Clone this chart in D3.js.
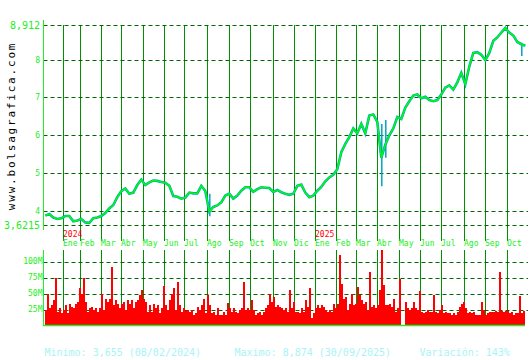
<!DOCTYPE html>
<html>
<head>
<meta charset="utf-8">
<script src="https://cdn.jsdelivr.net/npm/d3@7"></script>
<style>
  body { margin: 0; background: #fff; }
  svg { display: block; }
  text { font-family: "DejaVu Sans Mono", monospace; }
</style>
</head>
<body>
<div id="chart"></div>
<script>
// closing price, one value every 4 sessions (session 0 .. 480)
var closes = [
  3.87, 3.91, 3.82, 3.78, 3.80, 3.86, 3.86, 3.72, 3.74, 3.78,
  3.69, 3.68, 3.80, 3.82, 3.86, 3.94, 4.06, 4.15, 4.36, 4.52,
  4.59, 4.45, 4.48, 4.68, 4.82, 4.68, 4.75, 4.80, 4.79, 4.76,
  4.74, 4.66, 4.39, 4.37, 4.32, 4.35, 4.48, 4.46, 4.46, 4.66,
  4.52, 3.98, 4.10, 4.14, 4.22, 4.40, 4.45, 4.32, 4.40, 4.53,
  4.62, 4.62, 4.50, 4.57, 4.62, 4.61, 4.60, 4.50, 4.55, 4.49,
  4.45, 4.42, 4.45, 4.66, 4.69, 4.48, 4.36, 4.40, 4.53, 4.63,
  4.78, 4.88, 4.95, 5.10, 5.55, 5.77, 5.95, 6.18, 6.05, 6.30,
  6.05, 6.52, 6.55, 6.35, 5.40, 5.75, 6.00, 6.18, 6.48, 6.43,
  6.73, 6.90, 7.05, 7.08, 6.98, 7.02, 6.93, 6.90, 6.93, 7.08,
  7.26, 7.32, 7.21, 7.40, 7.65, 7.35, 7.82, 8.18, 8.20, 8.13,
  7.99, 8.18, 8.50, 8.59, 8.72, 8.84, 8.72, 8.64, 8.47, 8.41,
  8.37
];
var closeStep = 4;

// a few intraday ranges that stick out of the line
var wickDays = [164, 336, 340, 476];
var wickLow  = [3.85, 4.65, 5.40, 8.10];
var wickHigh = [4.45, 6.30, 6.40, 8.45];

// volume in millions, one value every 2 sessions
var volumes = [
  25, 49, 27, 32, 40, 75, 21, 27, 19, 24,
  32, 19, 34, 29, 27, 34, 37, 58, 50, 75,
  37, 21, 27, 29, 24, 27, 21, 27, 50, 25,
  42, 37, 42, 92, 32, 40, 34, 27, 34, 37,
  24, 40, 34, 40, 27, 37, 40, 47, 56, 42,
  37, 21, 32, 21, 34, 27, 32, 19, 27, 61,
  32, 24, 40, 50, 58, 25, 68, 32, 21, 27,
  23, 24, 21, 24, 16, 19, 29, 24, 32, 42,
  19, 47, 32, 19, 21, 16, 27, 16, 16, 21,
  16, 35, 27, 21, 27, 21, 19, 24, 27, 68,
  24, 27, 24, 40, 24, 16, 19, 21, 16, 21,
  27, 32, 50, 37, 45, 29, 32, 29, 27,
  24, 27, 21, 55, 27, 37, 21, 21, 19, 27,
  21, 40, 29, 58, 11, 19, 27, 32, 27, 32,
  29, 24, 21, 24, 21, 34, 27, 34, 110, 65,
  42, 45, 24, 34, 50, 32, 34, 60, 47, 40,
  34, 37, 24, 84, 29, 32, 27, 32, 55, 118,
  63, 32, 32, 34, 29, 42, 21, 27, 73, 0,
  0, 37, 27, 24, 27, 37, 27, 24, 54, 21,
  19, 21, 24, 21, 21, 47, 21, 19, 24, 32,
  19, 21, 19, 19, 16, 19, 16, 21, 29, 34,
  37, 27, 19, 21, 19, 21, 16, 16, 16, 37,
  24, 16, 19, 21, 21, 21, 23, 21, 84, 23,
  21, 22, 23, 20, 21, 16, 19, 20, 46, 20,
  23
];
var volStep = 2;

// month starts (session index)
var monthNames = ["Ene","Feb","Mar","Abr","May","Jun","Jul","Ago","Sep","Oct","Nov","Dic",
                  "Ene","Feb","Mar","Abr","May","Jun","Jul","Ago","Sep","Oct"];
var monthDays  = [18, 35, 56, 76, 98, 119, 139, 162, 184, 205, 228, 249,
                  270, 291, 311, 332, 354, 375, 396, 419, 440, 462];
var yearNames = ["2024", "2025"];
var yearDays  = [18, 270];

var priceMin = 3.6215, priceMax = 8.912;
var priceTicks = [4, 5, 6, 7, 8];
var volTicks = [25, 50, 75, 100];

var W = 530, H = 360;
var svg = d3.select("#chart").append("svg")
    .attr("width", W)
    .attr("height", H);

var left = 43.5, right = 528;
var x = d3.scaleLinear().domain([0, 480]).range([45.3, 525.3]);
var y = d3.scaleLinear().domain([priceMin, priceMax]).range([225, 25.3]);
var yv = d3.scaleLinear().domain([0, 100]).range([325.5, 261.5]);

var lime = "#22ee22", vgreen = "#008f00", dgreen = "#006400";

// month grid lines
svg.append("g").selectAll("line.m1").data(monthDays).enter().append("line")
    .attr("x1", function(d) { return Math.round(x(d)) + 0.5; })
    .attr("x2", function(d) { return Math.round(x(d)) + 0.5; })
    .attr("y1", 25).attr("y2", 241)
    .style("stroke", vgreen);
svg.append("g").selectAll("line.m2").data(monthDays).enter().append("line")
    .attr("x1", function(d) { return Math.round(x(d)) + 0.5; })
    .attr("x2", function(d) { return Math.round(x(d)) + 0.5; })
    .attr("y1", 250).attr("y2", 325)
    .style("stroke", vgreen);

// horizontal dashed lines, price
svg.append("g").selectAll("line").data([priceMin].concat(priceTicks, [priceMax])).enter().append("line")
    .attr("x1", left).attr("x2", right)
    .attr("y1", function(d) { return Math.round(y(d)) + 0.5; })
    .attr("y2", function(d) { return Math.round(y(d)) + 0.5; })
    .style("stroke", dgreen)
    .style("stroke-dasharray", "4,3");

// horizontal dashed lines, volume
svg.append("g").selectAll("line").data(volTicks).enter().append("line")
    .attr("x1", left).attr("x2", right)
    .attr("y1", function(d) { return Math.round(yv(d)) + 0.5; })
    .attr("y2", function(d) { return Math.round(yv(d)) + 0.5; })
    .style("stroke", dgreen)
    .style("stroke-dasharray", "4,3");

// volume bars
svg.append("g").selectAll("rect").data(volumes).enter().append("rect")
    .attr("x", function(d, i) { return x(i * volStep); })
    .attr("width", x(volStep) - x(0))
    .attr("y", function(d) { return yv(d); })
    .attr("height", function(d) { return yv(0) - yv(d); })
    .style("fill", "#ff0000")
    .style("shape-rendering", "crispEdges");

// price
var line = d3.line()
    .x(function(d, i) { return x(i * closeStep); })
    .y(function(d) { return y(d); });

svg.append("g").selectAll("line").data(wickDays).enter().append("line")
    .attr("x1", function(d) { return x(d) + 0.5; })
    .attr("x2", function(d) { return x(d) + 0.5; })
    .attr("y1", function(d, i) { return y(wickLow[i]); })
    .attr("y2", function(d, i) { return y(wickHigh[i]); })
    .style("stroke", "#00a5c0")
    .style("stroke-width", 1.5);

svg.append("path").datum(closes)
    .attr("d", line)
    .style("fill", "none")
    .style("stroke", "#00a5c0")
    .style("stroke-width", 2.6);
svg.append("path").datum(closes)
    .attr("d", line)
    .style("fill", "none")
    .style("stroke", "#00ff00")
    .style("stroke-width", 1.4);

// axis frame
svg.append("line").attr("x1", left).attr("x2", left).attr("y1", 20).attr("y2", 230)
    .style("stroke", lime);
svg.append("line").attr("x1", left).attr("x2", left).attr("y1", 250).attr("y2", 326)
    .style("stroke", lime);
svg.append("line").attr("x1", left).attr("x2", 525).attr("y1", 325.5).attr("y2", 325.5)
    .style("stroke", lime).style("stroke-width", 1.5);

// price labels
svg.append("g").selectAll("text").data(priceTicks).enter().append("text")
    .attr("x", 40).attr("y", function(d) { return y(d); })
    .attr("dy", "0.35em")
    .style("text-anchor", "end")
    .style("font-size", "8px")
    .style("fill", lime)
    .text(function(d) { return d; });
svg.append("text")
    .attr("x", 40).attr("y", y(priceMax)).attr("dy", "0.38em")
    .style("text-anchor", "end").style("font-size", "10px").style("fill", lime)
    .text(String(priceMax).replace(".", ","));
svg.append("text")
    .attr("x", 40).attr("y", y(priceMin)).attr("dy", "0.4em")
    .style("text-anchor", "end").style("font-size", "10px").style("fill", lime)
    .text(String(priceMin).replace(".", ","));

// volume labels
svg.append("g").selectAll("text").data(volTicks).enter().append("text")
    .attr("x", 42.5).attr("y", function(d) { return yv(d); })
    .attr("dy", "0.35em")
    .style("text-anchor", "end")
    .style("font-size", "8px")
    .style("fill", lime)
    .text(function(d) { return d + "M"; });

// month and year labels
svg.append("g").selectAll("text").data(monthDays).enter().append("text")
    .attr("x", function(d) { return Math.round(x(d)); })
    .attr("y", 246)
    .style("font-size", "8px")
    .style("fill", lime)
    .text(function(d, i) { return monthNames[i]; });
svg.append("g").selectAll("text").data(yearDays).enter().append("text")
    .attr("x", function(d) { return Math.round(x(d)); })
    .attr("y", 237)
    .style("font-size", "8px")
    .style("fill", "#ff0000")
    .text(function(d, i) { return yearNames[i]; });

// site name
svg.append("text")
    .attr("transform", "translate(15,126) rotate(-90)")
    .style("text-anchor", "middle")
    .style("font-size", "11px")
    .style("letter-spacing", "1.8px")
    .style("fill", "#000")
    .text("www.bolsagrafica.com");

// footer
var footer = ["Minimo: 3,655 (08/02/2024)", "Maximo: 8,874 (30/09/2025)", "Variación: 143%"];
var footerX = [44.5, 234.5, 419.5];
svg.append("g").selectAll("text").data(footer).enter().append("text")
    .attr("x", function(d, i) { return footerX[i]; })
    .attr("y", 356)
    .style("font-size", "10px")
    .style("fill", "#a8f4f4")
    .text(function(d) { return d; });
</script>
</body>
</html>
